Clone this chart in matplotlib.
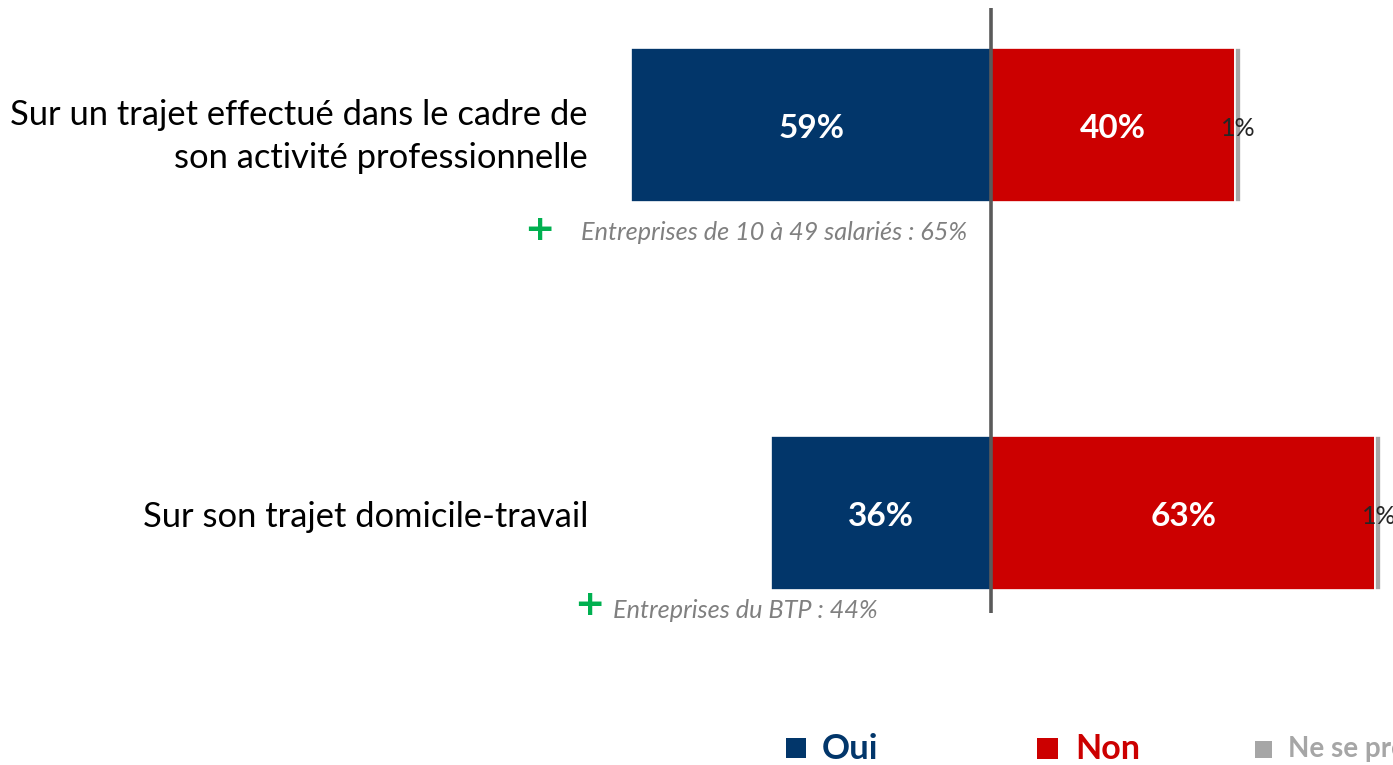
import matplotlib
matplotlib.use("Agg")
import matplotlib.pyplot as plt
from matplotlib.patches import Rectangle

# ---- data ----
categories = ["Sur un trajet effectué dans le cadre de\nson activité professionnelle",
              "Sur son trajet domicile-travail"]
oui = [59, 36]
non = [40, 63]
nsp = [1, 1]
notes = ["Entreprises de 10 à 49 salariés : 65%", "Entreprises du BTP : 44%"]
legend_labels = ["Oui", "Non", "Ne se prononce pas"]

C_OUI = "#02366A"
C_NON = "#CC0000"
C_NSP = "#A6A6A6"
C_LINE = "#5A5A5A"
C_GREEN = "#00B050"
C_NOTE = "#808080"

W, H = 1393, 765
fig = plt.figure(figsize=(W / 100, H / 100), dpi=100)
ax = fig.add_axes([0, 0, 1, 1])
FONT = "Lato"

PX = 6.1        # pixels per percent
CX = 991        # center pixel
Y0, DY = 125, 388
ax.set_xlim(-CX / PX, (W - CX) / PX)
ax.set_ylim((H - Y0) / DY, -Y0 / DY)
ax.axis("off")

ypos = list(range(len(categories)))
bh = 154 / DY

ax.barh(ypos, [-v for v in oui], height=bh, color=C_OUI, edgecolor="white", linewidth=1.2)
ax.barh(ypos, non, height=bh, color=C_NON, edgecolor="white", linewidth=1.2)
ax.barh(ypos, nsp, left=non, height=bh, color=C_NSP, edgecolor="white", linewidth=1.2)

# centre line
ax.plot([0, 0], [(8 - Y0) / DY, (613 - Y0) / DY], color=C_LINE, lw=2.6, solid_capstyle="butt", zorder=5)

for y, o, n, s in zip(ypos, oui, non, nsp):
    ax.text(-o / 2, y + 0.008, f"{o}%", ha="center", va="center", color="white",
            fontsize=24, fontweight="bold", family=FONT)
    ax.text(n / 2, y + 0.008, f"{n}%", ha="center", va="center", color="white",
            fontsize=24, fontweight="bold", family=FONT)
    ax.text(n + s / 2 + 0.1, y + 0.008, f"{s}%", ha="center", va="center", color="#262626",
            fontsize=18, family=FONT)

# category labels
tr = ax.get_yaxis_transform()
cat_dy = [0.03, 0.01]
for y, c, d in zip(ypos, categories, cat_dy):
    ax.text(588 / W, y + d, c, transform=tr, ha="right", va="center",
            fontsize=24.8, family=FONT, color="black", linespacing=1.42)

# notes
note_x = [(581 - CX) / PX, (613 - CX) / PX]
plus_x = [(539 - CX) / PX, (589 - CX) / PX]
note_y = [(233 - Y0) / DY, (611 - Y0) / DY]
plus_y = [(230 - Y0) / DY, (605 - Y0) / DY]
for nx, px, ny, py, t in zip(note_x, plus_x, note_y, plus_y, notes):
    ax.text(px, py, "+", ha="center", va="center", color=C_GREEN, fontsize=26,
            fontweight="bold", family="DejaVu Sans")
    ax.text(nx, ny, t, ha="left", va="center", color=C_NOTE, fontsize=18.2,
            style="italic", family=FONT)

# legend (manual)
leg_sq = [(786, 738, 20, C_OUI), (1037, 738, 21, C_NON), (1255, 741, 17, C_NSP)]
leg_tx = [(822, C_OUI, 25), (1075, C_NON, 24.5), (1288, C_NSP, 20)]
for (x, y, s, col), (tx, tc, fs), lab in zip(leg_sq, leg_tx, legend_labels):
    fig.add_artist(Rectangle((x / W, 1 - (y + s) / H), s / W, s / H,
                             transform=fig.transFigure, color=col, lw=0))
    fig.text(tx / W, 1 - 749 / H, lab, ha="left", va="center", color=tc,
             fontsize=fs, fontweight="bold", family=FONT)

fig.savefig("out.png", dpi=100)
